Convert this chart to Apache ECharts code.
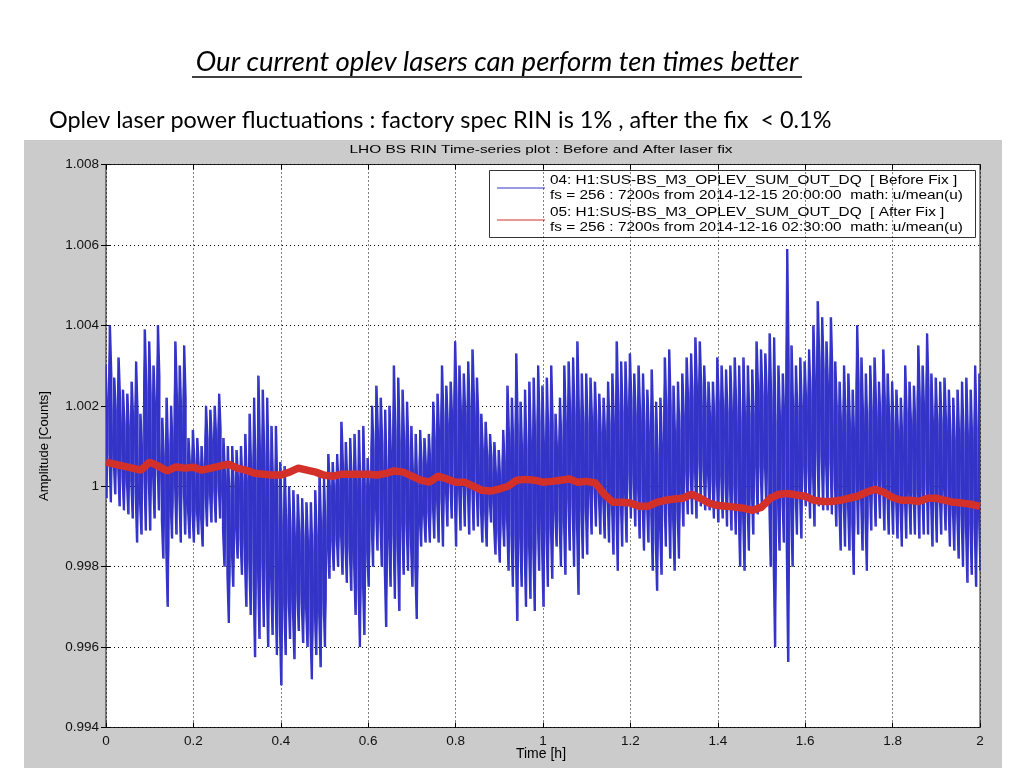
<!DOCTYPE html>
<html><head><meta charset="utf-8">
<script src="https://cdn.jsdelivr.net/npm/echarts@6/dist/echarts.min.js"></script>
<style>html,body{margin:0;padding:0;background:#fff}#c{width:1024px;height:768px}</style>
</head><body><div id="c"></div>
<script>
// Time axis step for the envelope columns (hours)
const step = 0.01;
// Blue "Before Fix" envelope: maximum per column (t = i*0.01 h)
const blueHigh = [
1.0030,1.0040,1.0027,1.0032,1.0024,1.0023,1.0026,1.0031,1.0018,1.0039,
1.0036,1.0030,1.0040,1.0017,1.0022,1.0020,1.0036,1.0030,1.0035,1.0012,
1.0014,1.0012,1.0010,1.0020,1.0019,1.0020,1.0023,1.0012,1.0010,1.0010,
1.0009,1.0010,1.0013,1.0018,1.0022,1.00275,1.0024,1.0022,1.0015,1.0015,
1.0006,1.0005,1.0000,0.9999,0.9998,0.9997,0.9996,0.9996,0.9999,1.0003,
1.0002,1.0008,1.0006,1.0008,1.0016,1.0011,1.0012,1.0013,1.0014,1.0015,
1.0007,1.0020,1.0025,1.0022,1.0019,1.0020,1.0030,1.0027,1.0024,1.0021,
1.0015,1.0013,1.0014,1.0012,1.0013,1.0021,1.0023,1.0030,1.0025,1.0026,
1.0036,1.0030,1.0028,1.0031,1.0034,1.0027,1.0018,1.0016,1.0013,1.0011,
1.0009,1.0014,1.0025,1.0022,1.0033,1.0021,1.0024,1.0026,1.0027,1.0030,
1.0025,1.0027,1.0030,1.0018,1.0022,1.0030,1.0031,1.0032,1.0036,1.0028,
1.0028,1.0027,1.0026,1.0023,1.0022,1.0026,1.0028,1.0036,1.0031,1.0031,
1.0033,1.0028,1.0030,1.0028,1.0024,1.0029,1.0021,1.0022,1.0032,1.0034,
1.0025,1.0026,1.0028,1.0032,1.0033,1.0037,1.0036,1.0030,1.0026,1.0026,
1.0032,1.0030,1.0029,1.0030,1.0032,1.0030,1.0032,1.0030,1.0029,1.0036,
1.0034,1.0033,1.0038,1.0037,1.0030,1.0028,1.0059,1.0035,1.0030,1.0032,
1.0031,1.0034,1.0040,1.0046,1.0042,1.0036,1.0042,1.0031,1.0026,1.0030,
1.0028,1.0024,1.0040,1.0032,1.0028,1.0030,1.0032,1.0026,1.0034,1.0028,
1.0026,1.0024,1.0022,1.0030,1.0026,1.0025,1.0035,1.0030,1.0038,1.0028,
1.0027,1.0026,1.0027,1.0024,1.0022,1.0024,1.0026,1.0027,1.0024,1.0030,
1.0028];
// Blue "Before Fix" envelope: minimum per column
const blueLow = [
0.9997,0.9996,0.9998,0.9995,0.9994,0.9993,0.9992,0.9986,0.9988,0.9989,
0.9989,0.9992,0.9994,0.9982,0.9970,0.9987,0.9988,0.9986,0.9988,0.9987,
0.9986,0.9988,0.9985,0.9990,0.9991,0.9991,0.9992,0.9980,0.9966,0.9975,
0.9982,0.9978,0.9970,0.9968,0.99575,0.9962,0.9965,0.9960,0.9963,0.9958,
0.99505,0.9958,0.9962,0.9957,0.9964,0.9961,0.9960,0.9952,0.9958,0.9955,
0.9960,0.9977,0.9979,0.9980,0.9978,0.9976,0.9974,0.9968,0.9960,0.9963,
0.9975,0.9980,0.9984,0.9980,0.9965,0.9975,0.9972,0.9969,0.9978,0.9979,
0.9975,0.9967,0.9985,0.9986,0.9986,0.9987,0.9986,0.9985,0.9990,0.9992,
0.9985,0.9989,0.9990,0.9988,0.9989,0.9990,0.9986,0.9985,0.9991,0.9983,
0.9981,0.9985,0.9979,0.9975,0.99665,0.9975,0.9970,0.9972,0.9969,0.9979,
0.9970,0.9975,0.9977,0.9985,0.9980,0.9978,0.9984,0.9980,0.9973,0.9982,
0.9983,0.9988,0.9990,0.9988,0.9987,0.9986,0.9983,0.9979,0.9985,0.9986,
0.9992,0.9990,0.9987,0.9984,0.9986,0.9979,0.9974,0.9978,0.9985,0.9982,
0.9979,0.9982,0.9990,0.9993,0.9993,0.9992,0.9995,0.9994,0.9994,0.9992,
0.9991,0.9992,0.9990,0.9989,0.9988,0.9980,0.9979,0.9984,0.9988,0.9993,
0.9994,0.9995,0.9980,0.9960,0.9984,0.9986,0.99563,0.9980,0.9988,0.9987,
0.9995,0.9992,0.9990,0.9995,0.9994,0.9994,0.9993,0.9990,0.9984,0.9985,
0.9984,0.9978,0.9988,0.9984,0.9979,0.9989,0.9990,0.9992,0.9989,0.9988,
0.9988,0.9987,0.9985,0.9987,0.9988,0.9988,0.9987,0.9988,0.9988,0.9985,
0.9986,0.9988,0.9989,0.9985,0.9984,0.9982,0.9980,0.9976,0.9978,0.9975,
0.9979];
// Red "After Fix" trace, every 0.02 h
const redStep = 0.02;
const redValues = [
1.0006,1.00055,1.0005,1.00045,1.0004,1.0006,1.0005,1.00038,1.00048,1.00045,
1.00047,1.0004,1.00045,1.0005,1.00055,1.00045,1.0004,1.00032,1.0003,1.00028,
1.00028,1.00035,1.00045,1.0004,1.00035,1.00027,1.00025,1.0003,1.0003,1.0003,
1.0003,1.00028,1.00032,1.00038,1.00035,1.00025,1.00015,1.0001,1.00025,1.00018,
1.0001,1.0001,1.0000,0.9999,0.99988,0.99993,1.0000,1.00015,1.00017,1.00015,
1.0001,1.00012,1.00015,1.00018,1.0001,1.00012,1.00008,0.9998,0.9996,0.9996,
0.99958,0.9995,0.9995,0.9996,0.99965,0.99968,0.9997,0.9998,0.9997,0.99958,
0.99952,0.9995,0.99948,0.99945,0.9994,0.99948,0.9997,0.9998,0.99982,0.99978,
0.99975,0.99965,0.99962,0.99962,0.99965,0.9997,0.99975,0.99985,0.99992,0.99985,
0.99972,0.99965,0.99965,0.99962,0.9997,0.9997,0.99965,0.9996,0.99958,0.99955,
0.9995];
const xTicks = [0,0.2,0.4,0.6,0.8,1,1.2,1.4,1.6,1.8,2];
const yTicks = [0.994,0.996,0.998,1,1.002,1.004,1.006,1.008];
const legendLines = [
  ['04: H1:SUS-BS_M3_OPLEV_SUM_OUT_DQ  [ Before Fix ]','fs = 256 : 7200s from 2014-12-15 20:00:00  math: u/mean(u)'],
  ['05: H1:SUS-BS_M3_OPLEV_SUM_OUT_DQ  [ After Fix ]','fs = 256 : 7200s from 2014-12-16 02:30:00  math: u/mean(u)']
];
const seriesColors = ['#3333c8','#d3302a'];

const blueCols = blueHigh.map((h, i) => [i * step, h, blueLow[i]]);
const blueZig = [];
for (let i = 0; i < blueHigh.length; i++) {
  const t = i * step;
  blueZig.push([Math.max(0, t - step/4), blueHigh[i]]);
  blueZig.push([Math.min(2, t + step/4), blueLow[i]]);
}
const redData = redValues.map((v, i) => [i * redStep, v]);

const chart = echarts.init(document.getElementById('c'), null, {renderer:'canvas'});
const lblFont = 'Liberation Sans, Arial, sans-serif';
const gl = 106, gr = 980, gt = 164.5, gb = 727.5;
const smallFont = '12px "Liberation Sans", Arial, sans-serif';

function axisCommon(show){
  return {
    axisLine:{show:false},
    axisTick:{show:true, inside:true, length:5, lineStyle:{color:'#000',width:1}},
    axisLabel:{show:show},
  };
}
chart.setOption({
  animation:false,
  backgroundColor:'#fff',
  graphic:[
    {type:'rect', shape:{x:24,y:140,width:978,height:628}, style:{fill:'#cbcbcb'}, z:-10},
    {type:'text', x:497, y:62, style:{text:'Our current oplev lasers can perform ten times better', font:'italic 27.5px Lato, "Open Sans", sans-serif', fill:'#000', align:'center', verticalAlign:'middle'}},
    {type:'line', shape:{x1:192,y1:77,x2:802,y2:77}, style:{stroke:'#000', lineWidth:1.3}},
    {type:'text', x:49, y:120, style:{text:'Oplev laser power fluctuations : factory spec RIN is 1% , after the fix  < 0.1%', font:'23.4px Lato, "Open Sans", sans-serif', fill:'#000', align:'left', verticalAlign:'middle'}},
    {type:'text', x:541, y:150, scaleX:1.34, style:{text:'LHO BS RIN Time-series plot : Before and After laser fix', font:'11.5px "Liberation Sans", Arial, sans-serif', fill:'#000', align:'center', verticalAlign:'middle'}},
    {type:'text', x:44, y:446, rotation:Math.PI/2, style:{text:'Amplitude [Counts]', font:'13px "Liberation Sans", Arial, sans-serif', fill:'#000', align:'center', verticalAlign:'middle'}},
    {type:'text', x:541, y:754, style:{text:'Time [h]', font:'14px "Liberation Sans", Arial, sans-serif', fill:'#000', align:'center', verticalAlign:'middle'}},
    {type:'group', z:100, children:[
      {type:'rect', shape:{x:489.5,y:170.5,width:486,height:67}, style:{fill:'#fff', stroke:'#333', lineWidth:1}},
      {type:'line', shape:{x1:497,y1:188,x2:545,y2:188}, style:{stroke:seriesColors[0], lineWidth:1}},
      {type:'line', shape:{x1:497,y1:220,x2:545,y2:220}, style:{stroke:seriesColors[1], lineWidth:1}},
      {type:'text', x:550, y:181, scaleX:1.28, style:{text:legendLines[0][0], font:smallFont, fill:'#000', verticalAlign:'middle'}},
      {type:'text', x:550, y:196, scaleX:1.28, style:{text:legendLines[0][1], font:smallFont, fill:'#000', verticalAlign:'middle'}},
      {type:'text', x:550, y:213, scaleX:1.28, style:{text:legendLines[1][0], font:smallFont, fill:'#000', verticalAlign:'middle'}},
      {type:'text', x:550, y:228, scaleX:1.28, style:{text:legendLines[1][1], font:smallFont, fill:'#000', verticalAlign:'middle'}}
    ]}
  ],
  grid:{left:gl, right:1024-gr, top:gt, bottom:768-gb, show:true, backgroundColor:'#fff', borderColor:'#222', borderWidth:1},
  xAxis:[
    Object.assign({type:'value', min:0, max:2, interval:0.2, position:'bottom',
      splitLine:{show:true, lineStyle:{color:'#000', type:[1,3], width:1}}}, axisCommon(true),
      {axisLabel:{show:true, color:'#111', fontFamily:lblFont, fontSize:13.5, margin:7, formatter:v=>String(Number(v.toFixed(1)))}}),
    Object.assign({type:'value', min:0, max:2, interval:0.2, position:'top', splitLine:{show:false}}, axisCommon(false))
  ],
  yAxis:[
    Object.assign({type:'value', min:0.994, max:1.008, interval:0.002, position:'left',
      splitLine:{show:true, lineStyle:{color:'#000', type:[1,3], width:1}}}, axisCommon(true),
      {axisLabel:{show:true, color:'#111', fontFamily:lblFont, fontSize:13.5, margin:7, formatter:v=>String(Number(v.toFixed(3)))}}),
    Object.assign({type:'value', min:0.994, max:1.008, interval:0.002, position:'right', splitLine:{show:false}}, axisCommon(false))
  ],
  series:[
    {type:'custom', name:'Before Fix', data:blueCols, xAxisIndex:0, yAxisIndex:0, clip:true, z:2,
      renderItem:function(params, api){
        const t = api.value(0);
        const p1 = api.coord([t, api.value(1)]);
        const p2 = api.coord([t, api.value(2)]);
        const cs = params.coordSys;
        const w = api.size([step, 0])[0] * 0.95;
        const tip = 0.7;
        const h = p2[1] - p1[1];
        const a = p1[1] + h * 0.28, b = p1[1] + h * 0.72;
        const x = p1[0];
        const L = Math.max(cs.x, x - w/2), R = Math.min(cs.x + cs.width, x + w/2);
        const tl = Math.max(cs.x, x - tip), tr = Math.min(cs.x + cs.width, x + tip);
        return {type:'polygon', shape:{points:[[tl,p1[1]],[tr,p1[1]],[R,a],[R,b],[tr,p2[1]],[tl,p2[1]],[L,b],[L,a]]},
          style:{fill:seriesColors[0]}};
      }},
    {type:'line', name:'Before Fix zig', data:blueZig, xAxisIndex:0, yAxisIndex:0, showSymbol:false, symbol:'none', sampling:null,
      lineStyle:{color:seriesColors[0], width:1}, clip:true, z:2},
    {type:'line', name:'After Fix', data:redData, xAxisIndex:0, yAxisIndex:0, showSymbol:false, symbol:'none',
      lineStyle:{color:seriesColors[1], width:7.5}, clip:true, z:3}
  ]
});
</script></body></html>
